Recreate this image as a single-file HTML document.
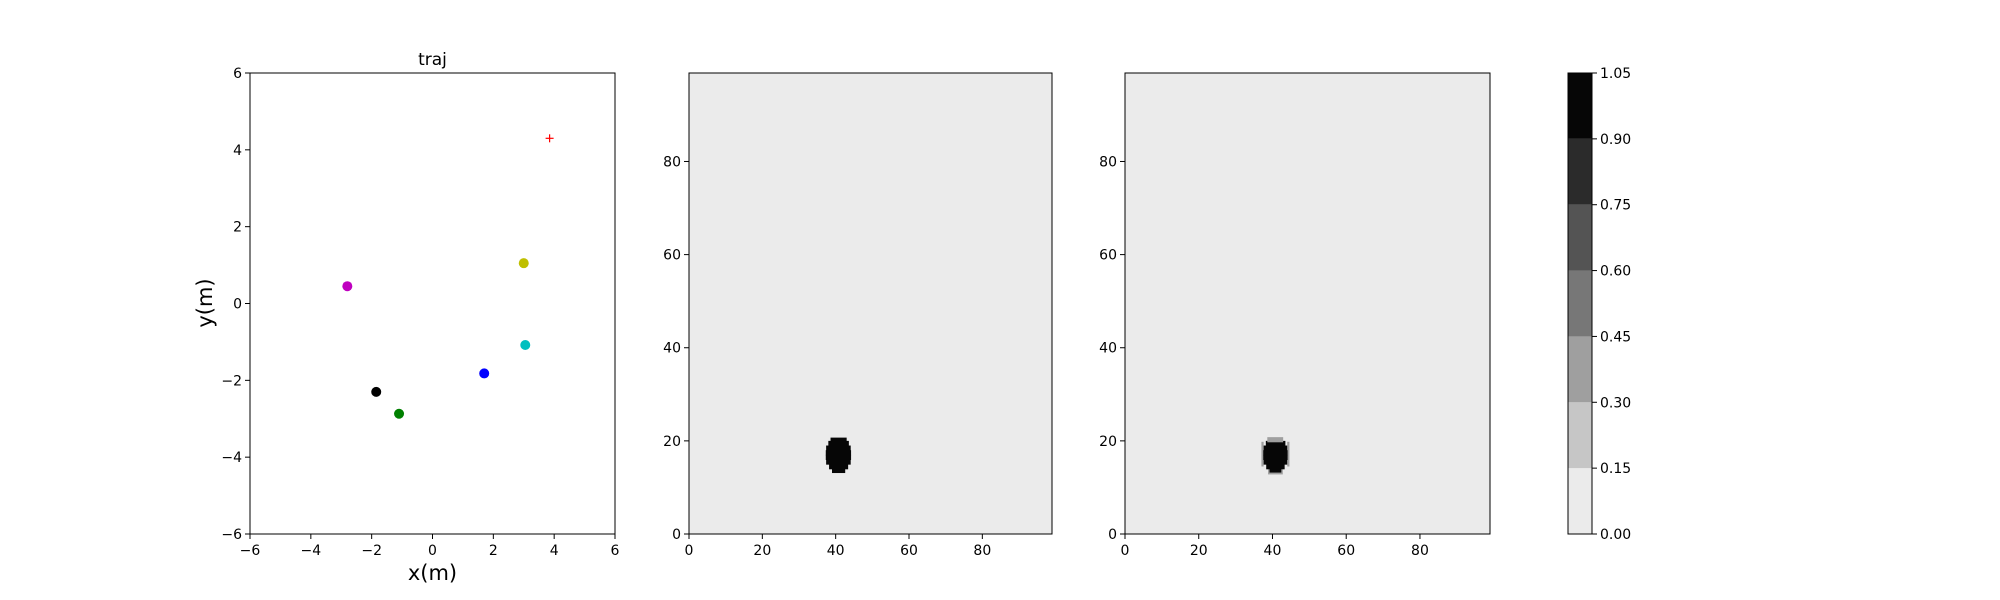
<!DOCTYPE html>
<html><head><meta charset="utf-8"><style>
html,body{margin:0;padding:0;background:#fff;}
svg{display:block;font-family:"DejaVu Sans","Liberation Sans",sans-serif;}
</style></head><body>
<svg id="fig" width="2000" height="600" viewBox="0 0 2000 600" xmlns="http://www.w3.org/2000/svg"></svg>
<script>
// ---- data ----
const trajX = [-2.8, 3.0, 3.05, 1.7, -1.85, -1.1];
const trajY = [0.45, 1.05, -1.08, -1.82, -2.3, -2.87];
const trajColors = ['#bf00bf','#bfbf00','#00bfbf','#0000ff','#000000','#008000'];
const goalX = [3.85];
const goalY = [4.3];
const trajTicks = [-6,-4,-2,0,2,4,6];
const mapTicks = [0,20,40,60,80];
const levels = [0,0.15,0.30,0.45,0.60,0.75,0.90,1.05];
const levelLabels = ['0.00','0.15','0.30','0.45','0.60','0.75','0.90','1.05'];
const levelColors = ['#ebebeb','#c6c6c6','#9f9f9f','#777777','#545454','#2b2b2b','#060606'];
// blob rows: [yCenter, xStart, xEnd, value]
const blob1Rows = [[13.7,39.0,42.6,1],[14.5,38.2,43.4,1],[15.5,37.4,44.1,1],[16.5,37.3,44.2,1],[17.5,37.3,44.2,1],[18.5,37.4,44.1,1],[19.5,38.0,43.6,1],[20.2,38.6,43.0,1]];
const blob2Rows = [[13.4,38.8,42.8,0.4],[13.8,39.2,42.4,1],[14.5,38.3,43.3,1],[15.5,37.6,44.0,1],[16.5,37.5,44.1,1],[17.5,37.5,44.1,1],[18.5,37.6,44.0,1],[19.5,38.2,43.5,1],[20.3,38.6,42.9,0.4]];
const blob2Fringe = [[37.0,14.5,19.8,0.4],[44.0,14.5,19.8,0.4]];

const svg = document.getElementById('fig');
const NS = 'http://www.w3.org/2000/svg';
function mk(tag, attrs, parent){
  const e = document.createElementNS(NS, tag);
  for (const k in attrs) e.setAttribute(k, attrs[k]);
  (parent||svg).appendChild(e);
  return e;
}
function levelColor(v){
  for (let i=0;i<levelColors.length;i++) if (v < levels[i+1]) return levelColors[i];
  return levelColors[levelColors.length-1];
}
const TOP=73, BOT=534;

function axes(x0,x1,xmin,xmax,ymin,ymax){
  const sx = v => x0 + (v-xmin)/(xmax-xmin)*(x1-x0);
  const sy = v => BOT - (v-ymin)/(ymax-ymin)*(BOT-TOP);
  return {sx,sy};
}
function ticks(ax,x0,x1,xt,yt,name){
  const g = mk('g',{});
  
  
  xt.forEach(v=>{
    const x=ax.sx(v);
    mk('line',{x1:x,x2:x,y1:BOT,y2:BOT+5,stroke:'#000','stroke-width':1},g);
    const t=mk('text',{x:x,y:BOT+21,'font-size':14,'text-anchor':'middle',fill:'#000'},g);
    t.textContent = v<0 ? '\u2212'+(-v) : String(v);
  });
  yt.forEach(v=>{
    const y=ax.sy(v);
    mk('line',{x1:x0-5,x2:x0,y1:y,y2:y,stroke:'#000','stroke-width':1},g);
    const t=mk('text',{x:x0-8,y:y+5,'font-size':14,'text-anchor':'end',fill:'#000'},g);
    t.textContent = v<0 ? '\u2212'+(-v) : String(v);
  });
}

// ---- panel 1: trajectory ----
const a1 = axes(250,615,-6,6,-6,6);
const f1 = mk('rect',{x:250,y:TOP,width:365,height:BOT-TOP,fill:'#fff',stroke:'#000','stroke-width':1});
 
trajX.forEach((x,i)=>{
  const c = mk('circle',{cx:a1.sx(x),cy:a1.sy(trajY[i]),r:5,fill:trajColors[i]});
  
  
});
goalX.forEach((x,i)=>{
  const cx=a1.sx(x), cy=a1.sy(goalY[i]);
  const g=mk('g',{stroke:'#ff0000','stroke-width':1.2});
  
  
  mk('line',{x1:cx-4,x2:cx+4,y1:cy,y2:cy},g);
  mk('line',{x1:cx,x2:cx,y1:cy-4,y2:cy+4},g);
});
ticks(a1,250,615,trajTicks,trajTicks,'traj');
let t = mk('text',{x:432.5,y:65,'font-size':17,'text-anchor':'middle'}); t.textContent='traj';
 
t = mk('text',{x:432.5,y:580,'font-size':21,'text-anchor':'middle'}); t.textContent='x(m)';
 
t = mk('text',{x:0,y:0,'font-size':21,'text-anchor':'middle',transform:'translate(212,303) rotate(-90)'}); t.textContent='y(m)';
 

// ---- heatmap panels ----
function heat(x0,x1,rows,fringe,name){
  const ax = axes(x0,x1,0,99,0,99);
  const bg = mk('rect',{x:x0,y:TOP,width:x1-x0,height:BOT-TOP,fill:levelColors[0]});
   
  const g = mk('g',{});
   
  (fringe||[]).forEach(f=>{
    mk('rect',{x:ax.sx(f[0]),y:ax.sy(f[2]),width:ax.sx(f[0]+0.6)-ax.sx(f[0]),height:ax.sy(f[1])-ax.sy(f[2]),fill:levelColor(f[3])},g);
  });
  rows.forEach(r=>{
    const y0=ax.sy(r[0]+0.5), y1=ax.sy(r[0]-0.5);
    const c=mk('rect',{x:ax.sx(r[1]),y:y0,width:ax.sx(r[2])-ax.sx(r[1]),height:y1-y0+0.5,fill:levelColor(r[3])},g);
    
    
  });
  const fr = mk('rect',{x:x0,y:TOP,width:x1-x0,height:BOT-TOP,fill:'none',stroke:'#000','stroke-width':1});
   
  ticks(ax,x0,x1,mapTicks,mapTicks,name);
}
heat(689,1052,blob1Rows,null,'map-1');
heat(1125,1490,blob2Rows,blob2Fringe,'map-2');

// ---- colorbar ----
const cb = mk('g',{});
 
const cbs = v => BOT - (v-levels[0])/(levels[levels.length-1]-levels[0])*(BOT-TOP);
levelColors.forEach((c,i)=>{
  const y0=cbs(levels[i+1]), y1=cbs(levels[i]);
  const r=mk('rect',{x:1568,y:y0,width:24,height:y1-y0,fill:c},cb);
  
  
});
mk('rect',{x:1568,y:TOP,width:24,height:BOT-TOP,fill:'none',stroke:'#000','stroke-width':1},cb);
levels.forEach((v,i)=>{
  const y=cbs(v);
  mk('line',{x1:1592,x2:1597,y1:y,y2:y,stroke:'#000'},cb);
  const tt=mk('text',{x:1600,y:y+5,'font-size':14},cb);
  tt.textContent=levelLabels[i];
});
</script>
</body></html>
